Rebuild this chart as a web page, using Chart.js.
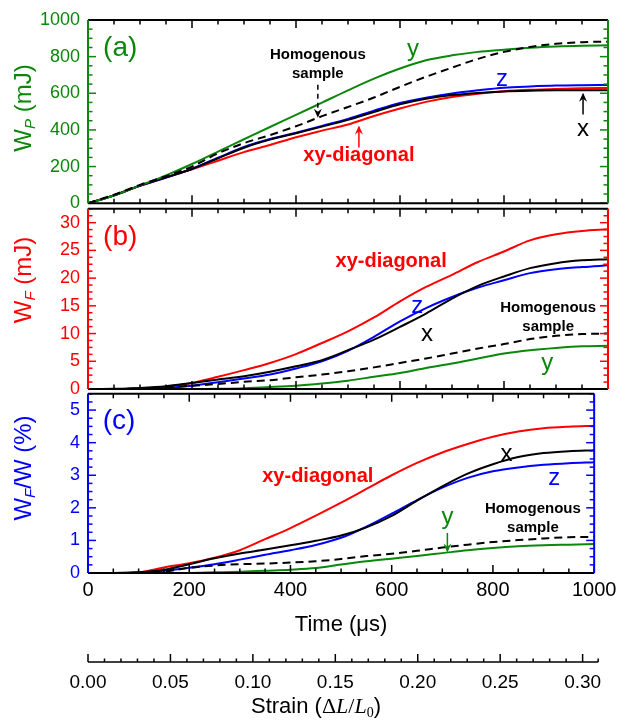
<!DOCTYPE html>
<html>
<head>
<meta charset="utf-8">
<script src="https://cdn.jsdelivr.net/npm/chart.js@4.4.1/dist/chart.umd.min.js"></script>
<style>
  body { margin: 0; background: #fff; }
  #wrap { position: relative; width: 633px; height: 720px; overflow: hidden;
          font-family: Arial, "Liberation Sans", sans-serif; }
  canvas { position: absolute; left: 0; }
  .ytitle { position: absolute; white-space: nowrap; font-size: 24px;
            transform: translate(-50%, -50%) rotate(-90deg); }
  .ytitle sub { font-size: 15px; font-style: italic; vertical-align: -4px; }
  .xtitle { position: absolute; white-space: nowrap; font-size: 22px; transform: translate(-50%, -50%); }
  .xtitle .m { font-family: "Liberation Serif", "DejaVu Serif", serif; }
  .xtitle sub { font-size: 14px; vertical-align: -4px; }
</style>
</head>
<body>
<div id="wrap">
  <canvas id="pa" width="633" height="222" style="top:0px"></canvas>
  <canvas id="pb" width="633" height="222" style="top:190px"></canvas>
  <canvas id="pc" width="633" height="345" style="top:375px"></canvas>
  <div class="ytitle" style="left:23px;top:108px;color:#0b870b">W<sub>P</sub> (mJ)</div>
  <div class="ytitle" style="left:23px;top:280px;color:#ff0000">W<sub>F</sub> (mJ)</div>
  <div class="ytitle" style="left:23px;top:468px;color:#0000ff">W<sub>F</sub>/W (%)</div>
  <div class="xtitle" style="left:316px;top:707px">Strain (<span class="m">Δ<i>L</i>/<i>L</i><sub>0</sub></span>)</div>
</div>
<script>
// ---- data (time in µs) ----
const times = [0, 50, 100, 150, 200, 250, 300, 350, 400, 450, 500,
               550, 600, 650, 700, 750, 800, 850, 900, 950, 1000];

// (a) plastic work W_P (mJ)
const wpX   = [0, 43, 96, 141, 187, 245, 303, 347, 382, 418, 455, 498, 540, 570, 590, 602, 610, 614, 616, 616, 616];
const wpY   = [0, 42, 97, 152, 214, 282, 349, 416, 482, 549, 616, 680, 735, 780, 807, 826, 838, 849, 856, 860, 862];
const wpZ   = [0, 42, 95, 140, 188, 248, 307, 350, 385, 422, 460, 505, 547, 576, 599, 616, 630, 637, 642, 644, 645];
const wpXY  = [0, 42, 95, 140, 185, 232, 279, 318, 360, 396, 430, 476, 517, 553, 580, 598, 611, 619, 624, 627, 629];
const wpHom = [0, 46, 100, 147, 200, 272, 328, 372, 420, 475, 525, 577, 635, 690, 740, 788, 826, 853, 870, 879, 882];

// (b) fracture work W_F (mJ)
const wfX   = [0, 0.05, 0.2, 0.5, 1.1, 1.7, 2.3, 3.1, 4.1, 5.2, 7.0, 8.9, 11.2, 13.6, 16.3, 18.6, 20.3, 21.8, 22.7, 23.2, 23.4];
const wfY   = [0, 0, 0, 0, 0, 0.05, 0.15, 0.35, 0.6, 1.0, 1.5, 2.2, 2.9, 3.8, 4.6, 5.5, 6.4, 7.0, 7.4, 7.7, 7.8];
const wfZ   = [0, 0, 0.05, 0.2, 0.6, 1.2, 1.9, 2.6, 3.7, 5.0, 6.9, 9.4, 12.2, 14.6, 16.6, 18.3, 19.6, 20.9, 21.6, 22.0, 22.3];
const wfXY  = [0, 0, 0.1, 0.4, 1.1, 2.2, 3.4, 4.7, 6.3, 8.3, 10.4, 12.9, 15.8, 18.4, 20.6, 22.9, 24.8, 26.8, 27.9, 28.5, 28.8];
const wfHom = [0, 0, 0.1, 0.3, 0.6, 0.9, 1.3, 1.6, 2.1, 2.6, 3.2, 3.9, 4.7, 5.5, 6.4, 7.3, 8.1, 9.0, 9.6, 9.9, 10.0];

// (c) ratio W_F/W (%)
const rX   = [0, 0, 0.02, 0.1, 0.27, 0.45, 0.60, 0.72, 0.85, 0.99, 1.15, 1.40, 1.75, 2.22, 2.66, 3.05, 3.34, 3.56, 3.68, 3.74, 3.77];
const rY   = [0, 0, 0, 0, 0, 0.02, 0.04, 0.07, 0.10, 0.15, 0.26, 0.36, 0.44, 0.52, 0.61, 0.70, 0.77, 0.82, 0.85, 0.87, 0.89];
const rZ   = [0, 0, 0.01, 0.07, 0.16, 0.27, 0.41, 0.56, 0.70, 0.86, 1.08, 1.42, 1.82, 2.24, 2.62, 2.92, 3.12, 3.24, 3.32, 3.37, 3.40];
const rXY  = [0, 0, 0.02, 0.17, 0.30, 0.47, 0.70, 1.04, 1.38, 1.76, 2.16, 2.58, 3.00, 3.38, 3.70, 3.96, 4.18, 4.34, 4.44, 4.49, 4.52];
const rHom = [0, 0, 0.01, 0.04, 0.16, 0.23, 0.27, 0.29, 0.32, 0.36, 0.43, 0.52, 0.59, 0.68, 0.78, 0.87, 0.95, 1.01, 1.06, 1.10, 1.11];

// axis ranges / tick steps
const timeMax = 1000;
const strainMax = 0.307;
const strainTicks = [0.00, 0.05, 0.10, 0.15, 0.20, 0.25, 0.30];

const GREEN = '#0b870b', RED = '#ff0000', BLUE = '#0000ff', BLACK = '#000000';
const FONT = 'Arial, "Liberation Sans", sans-serif';

function pts(arr) { return times.map((t, i) => ({ x: t, y: arr[i] })); }

function sets(x, y, z, xy, hom) {
    const base = { pointRadius: 0, borderWidth: 2, fill: false, cubicInterpolationMode: 'monotone', xAxisID: 'x' };
    return [
        Object.assign({ label: 'Homogenous sample', data: pts(hom), borderColor: BLACK, borderDash: [8, 5] }, base),
        Object.assign({ label: 'y', data: pts(y), borderColor: GREEN }, base),
        Object.assign({ label: 'x', data: pts(x), borderColor: BLACK }, base),
        Object.assign({ label: 'z', data: pts(z), borderColor: BLUE }, base),
        Object.assign({ label: 'xy-diagonal', data: pts(xy), borderColor: RED }, base)
    ];
}

// frame, inward ticks, labels and arrows
const decor = {
    id: 'decor',
    afterDatasetsDraw(chart, args, o) {
        const { ctx, chartArea: a, scales } = chart;
        const xs = scales.x, ys = scales.y;
        const seg = (x1, y1, x2, y2) => { ctx.beginPath(); ctx.moveTo(x1, y1); ctx.lineTo(x2, y2); ctx.stroke(); };
        ctx.save();
        ctx.lineWidth = 1.5;
        ctx.strokeStyle = BLACK;
        for (let t = 0; t <= timeMax; t += 50) {
            const px = xs.getPixelForValue(t);
            const len = t % 200 === 0 ? 8 : 4.5;
            seg(px, a.top, px, a.top + len);
            seg(px, a.bottom, px, a.bottom - len);
        }
        ctx.strokeStyle = o.color;
        for (let i = 0; ; i++) {
            const v = i * o.yMinor;
            if (v > ys.max + 1e-9) break;
            const py = ys.getPixelForValue(v);
            const len = i % o.nMinor === 0 ? 8 : 4.5;
            seg(a.left, py, a.left + len, py);
            seg(a.right, py, a.right - len, py);
        }
        ctx.lineWidth = 2;
        ctx.strokeStyle = BLACK;
        seg(a.left, a.top, a.right, a.top);
        seg(a.left, a.bottom, a.right, a.bottom);
        ctx.strokeStyle = o.color;
        seg(a.left, a.top, a.left, a.bottom);
        seg(a.right, a.top, a.right, a.bottom);

        // labels
        ctx.textBaseline = 'middle';
        (o.notes || []).forEach(n => {
            ctx.font = n.font + ' ' + FONT;
            ctx.fillStyle = n.color;
            ctx.textAlign = n.align || 'center';
            ctx.fillText(n.text, xs.getPixelForValue(n.t), ys.getPixelForValue(n.v));
        });
        // arrows
        (o.arrows || []).forEach(r => {
            const px = xs.getPixelForValue(r.t);
            const p0 = ys.getPixelForValue(r.v0), p1 = ys.getPixelForValue(r.v1);
            const dir = p1 > p0 ? 1 : -1;
            ctx.strokeStyle = r.color;
            ctx.fillStyle = r.color;
            ctx.lineWidth = 1.5;
            ctx.setLineDash(r.dash ? [5, 4] : []);
            seg(px, p0, px, p1 - dir * 2);
            ctx.setLineDash([]);
            ctx.beginPath();
            ctx.moveTo(px, p1);
            ctx.lineTo(px - 4, p1 - dir * 9);
            ctx.lineTo(px, p1 - dir * 6);
            ctx.lineTo(px + 4, p1 - dir * 9);
            ctx.closePath();
            ctx.fill();
        });

        // strain axis
        if (scales.x2) {
            const s = scales.x2;
            const ly = s.top + 22;
            ctx.strokeStyle = BLACK;
            ctx.lineWidth = 1.5;
            seg(s.left, ly, s.right + 4, ly);
            for (let i = 0; i <= 30; i++) {
                const px = s.getPixelForValue(i / 100);
                seg(px, ly, px, ly - (i % 5 === 0 ? 8 : 3.5));
            }
            seg(s.right + 4, ly, s.right + 4, ly - 3.5);
        }
        ctx.restore();
    }
};

function makePanel(id, datasets, cfg) {
    const showX = cfg.showX === true;
    const scales = {
        x: {
            type: 'linear', min: 0, max: timeMax, display: showX,
            grid: { display: false, drawTicks: false }, border: { display: false },
            ticks: { stepSize: 200, autoSkip: false, maxRotation: 0, color: BLACK, padding: 5,
                     font: { family: FONT, size: 20 }, callback: v => String(v) },
            title: { display: showX, text: 'Time (μs)', color: BLACK,
                     font: { family: FONT, size: 22 }, padding: { top: 0, bottom: 2 } }
        },
        y: {
            type: 'linear', position: 'left', min: 0, max: cfg.yMax,
            grid: { display: false, drawTicks: false }, border: { display: false },
            ticks: { stepSize: cfg.yStep, includeBounds: false, autoSkip: false, color: cfg.color, padding: 8,
                     font: { family: FONT, size: 18 }, callback: v => String(v) },
            afterFit: s => { s.width = 88; }
        }
    };
    if (showX) {
        scales.x.afterFit = s => { s.height = 67; };
        scales.x2 = {
            type: 'linear', position: 'bottom', weight: 1, min: 0, max: strainMax,
            grid: { display: false, drawTicks: false }, border: { display: false },
            afterBuildTicks: s => { s.ticks = strainTicks.map(v => ({ value: v })); },
            ticks: { color: BLACK, padding: 31, autoSkip: false, maxRotation: 0,
                     font: { family: FONT, size: 19 }, callback: v => v.toFixed(2) },
            afterFit: s => { s.height = 80; }
        };
    }
    return new Chart(document.getElementById(id), {
        type: 'line',
        data: { datasets },
        options: {
            responsive: false, animation: false,
            layout: { padding: cfg.padding },
            plugins: {
                legend: { display: false }, tooltip: { enabled: false },
                decor: { color: cfg.color, yMinor: cfg.yMinor, nMinor: cfg.nMinor,
                         notes: cfg.notes, arrows: cfg.arrows }
            },
            scales
        },
        plugins: [decor]
    });
}

makePanel('pa', sets(wpX, wpY, wpZ, wpXY, wpHom), {
    color: GREEN, yMax: 1000, yStep: 200, yMinor: 50, nMinor: 4,
    padding: { top: 20, bottom: 18, left: 0, right: 25 },
    notes: [
        { text: '(a)', t: 29, v: 848, color: GREEN, font: '28px', align: 'left' },
        { text: 'Homogenous', t: 442, v: 810, color: BLACK, font: 'bold 15px' },
        { text: 'sample', t: 442, v: 707, color: BLACK, font: 'bold 15px' },
        { text: 'y', t: 625, v: 840, color: GREEN, font: '24px' },
        { text: 'z', t: 796, v: 674, color: BLUE, font: '24px' },
        { text: 'xy-diagonal', t: 521, v: 261, color: RED, font: 'bold 20px' },
        { text: 'x', t: 952, v: 402, color: BLACK, font: '24px' }
    ],
    arrows: [
        { t: 442, v0: 647, v1: 467, color: BLACK, dash: true },
        { t: 521, v0: 304, v1: 424, color: RED },
        { t: 952, v0: 484, v1: 603, color: BLACK }
    ]
});

makePanel('pb', sets(wfX, wfY, wfZ, wfXY, wfHom), {
    color: RED, yMax: 32.5, yStep: 5, yMinor: 1.25, nMinor: 4,
    padding: { top: 14, bottom: 23, left: 0, right: 25 },
    notes: [
        { text: '(b)', t: 29, v: 27.4, color: RED, font: '28px', align: 'left' },
        { text: 'xy-diagonal', t: 583, v: 23.0, color: RED, font: 'bold 20px' },
        { text: 'z', t: 633, v: 14.9, color: BLUE, font: '24px' },
        { text: 'x', t: 652, v: 9.8, color: BLACK, font: '24px' },
        { text: 'Homogenous', t: 885, v: 14.7, color: BLACK, font: 'bold 15px' },
        { text: 'sample', t: 885, v: 11.2, color: BLACK, font: 'bold 15px' },
        { text: 'y', t: 883, v: 4.7, color: GREEN, font: '24px' }
    ],
    arrows: []
});

makePanel('pc', sets(rX, rY, rZ, rXY, rHom), {
    color: BLUE, yMax: 5.5, yStep: 1, yMinor: 0.25, nMinor: 4, showX: true,
    padding: { top: 14, bottom: 0, left: 0, right: 25 },
    notes: [
        { text: '(c)', t: 29, v: 4.67, color: BLUE, font: '28px', align: 'left' },
        { text: 'xy-diagonal', t: 454, v: 2.95, color: RED, font: 'bold 20px' },
        { text: 'x', t: 827, v: 3.63, color: BLACK, font: '24px' },
        { text: 'z', t: 921, v: 2.89, color: BLUE, font: '24px' },
        { text: 'Homogenous', t: 879, v: 1.96, color: BLACK, font: 'bold 15px' },
        { text: 'sample', t: 879, v: 1.39, color: BLACK, font: 'bold 15px' },
        { text: 'y', t: 710, v: 1.72, color: GREEN, font: '24px' }
    ],
    arrows: [
        { t: 710, v0: 1.23, v1: 0.63, color: GREEN }
    ]
});
</script>
</body>
</html>
